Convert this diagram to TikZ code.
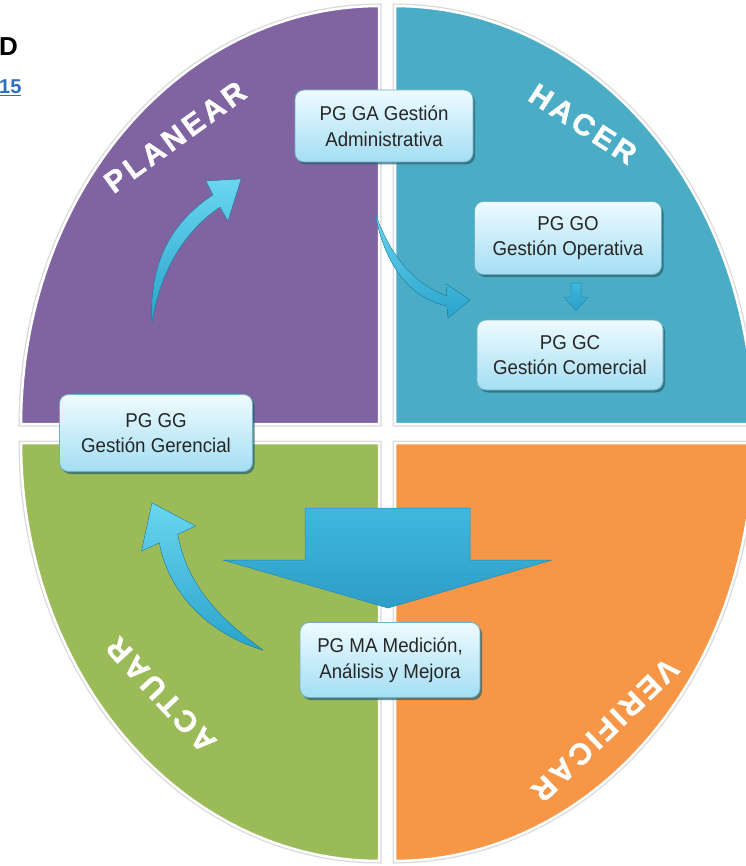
\documentclass[tikz,border=0pt]{standalone}
\usepackage{fontspec}
\setmainfont{Liberation Sans}
\newfontfamily\cajafamily[FakeStretch=0.935]{Liberation Sans}
\newfontfamily\etiquetafamily[FakeBold=1.2,LetterSpace=12]{Liberation Sans Bold}
\usetikzlibrary{calc,shadows}

\definecolor{morado}{HTML}{8064A2}
\definecolor{aqua}{HTML}{4BACC6}
\definecolor{verde}{HTML}{9BBB59}
\definecolor{naranja}{HTML}{F79646}
\definecolor{azul}{HTML}{2F6EBA}
\definecolor{cajaborde}{HTML}{6FAFC3}
\definecolor{cajaalta}{HTML}{EEFBFF}
\definecolor{cajabaja}{HTML}{A4DEF3}
\definecolor{cianclaro}{HTML}{6AD6F0}
\definecolor{cianoscuro}{HTML}{2AA3CB}
\definecolor{cianborde}{HTML}{1F8DB2}
\definecolor{flechaalta}{HTML}{3FB8DE}
\definecolor{flechabaja}{HTML}{2D9DC7}

\newcommand\cajafont{\cajafamily\fontsize{20}{25.5}\selectfont}
\newcommand\etiquetafont{\etiquetafamily\fontsize{30}{30}\selectfont}

\begin{document}
\begin{tikzpicture}[x=1pt,y=-1pt]
\tikzset{cuadrante/.style={ %
		fill=#1,
		draw=white,
		line width=2.5pt,
		preaction={draw=black!15, line width=5pt}
	},
	pgbox/.style={ %
		rounded corners=9pt,
		draw=cajaborde,
		line width=0.8pt,
		top color=cajaalta,
		bottom color=cajabaja,
		text=black!85,
		font=\cajafont,
		align=center,
		inner sep=2pt,
		drop shadow={shadow xshift=2pt, shadow yshift=-2.5pt, fill=black!45!aqua, opacity=0.7}
	},
	etiqueta/.style={text=white, font=\etiquetafont, inner sep=0pt},
	flechacurva/.style={top color=cianclaro, bottom color=cianoscuro, draw=cianborde, line width=0.3pt},
	flechagrande/.style={top color=flechaalta, bottom color=flechabaja, draw=cianborde, line width=0.5pt}
}
\useasboundingbox (0,0) rectangle (745,866);

% cuadrantes
\draw[cuadrante=morado] (379,424) -- plot[domain=180:270, samples=60] ({379+358*cos(\x)},{424+418*sin(\x)}) -- cycle;
\draw[cuadrante=aqua] (395,424) -- plot[domain=270:360, samples=60] ({395+358*cos(\x)},{424+418*sin(\x)}) -- cycle;
\draw[cuadrante=naranja] (395,443) -- plot[domain=0:90, samples=60] ({395+358*cos(\x)},{443+418*sin(\x)}) -- cycle;
\draw[cuadrante=verde] (379,443) -- plot[domain=90:180, samples=60] ({379+358*cos(\x)},{443+418*sin(\x)}) -- cycle;

\node[etiqueta, rotate=36] (planear) at (175,137) {PLANEAR};
\node[etiqueta, rotate=-33] (hacer) at (583,124) {HACER};
\node[etiqueta, rotate=224] (verificar) at (605,730) {VERIFICAR};
\node[etiqueta, rotate=133] (actuar) at (161,695) {ACTUAR};

% flechas
\fill[flechacurva] (152,322) .. controls (149,262) and (172,222) .. (213,195) -- (206,181) -- (241,179) -- (228,221) -- (220,207) .. controls (186,230) and (161,268) .. (152,322) -- cycle;
\fill[flechacurva] (375,213) .. controls (390,255) and (413,284) .. (447,296) -- (446,284) -- (470,300) -- (448,318) -- (447,306) .. controls (408,298) and (384,262) .. (375,213) -- cycle;
\fill[flechacurva] (263,650) .. controls (225,622) and (188,590) .. (177.6,534.3) -- (195.5,525.9) -- (152,503) -- (141.5,551.1) -- (159.4,542.7) .. controls (168,592) and (208,634) .. (263,650) -- cycle;
\draw[flechagrande] (305,508) -- (470,508) -- (470,560) -- (552,560) -- (388,608) -- (223,560) -- (305,560) -- cycle;
\draw[flechagrande] (571,283) -- (581,283) -- (581,297) -- (588,297) -- (576,311) -- (564,297) -- (571,297) -- cycle;

% cajas
\node[pgbox, minimum width=178, minimum height=72] (ga) at (384,126) {PG GA Gestión\\Administrativa};
\node[pgbox, minimum width=187, minimum height=73] (go) at (568,238) {PG GO\\Gestión Operativa};
\node[pgbox, minimum width=186, minimum height=70] (gc) at (570,355) {PG GC\\Gestión Comercial};
\node[pgbox, minimum width=193, minimum height=77] (gg) at (156,433) {PG GG\\Gestión Gerencial};
\node[pgbox, minimum width=180, minimum height=75] (ma) at (390,660) {PG MA Medición,\\Análisis y Mejora};

\node[anchor=west, inner sep=0pt, font=\fontsize{26}{26}\selectfont\bfseries] (d) at (-1,47) {D};
\node[anchor=west, inner sep=0pt, text=azul, font=\fontsize{20}{20}\selectfont\bfseries] (anio) at (-1,88) {\underline{15}};

\end{tikzpicture}
\end{document}
